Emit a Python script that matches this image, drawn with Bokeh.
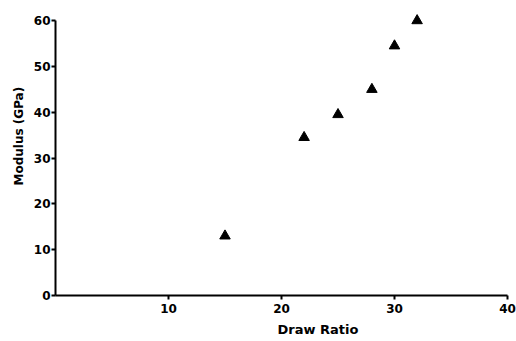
from bokeh.plotting import figure
from bokeh.models import FixedTicker, Range1d, Title
from bokeh.embed import file_html
from bokeh.resources import INLINE

draw_ratio = [15, 22, 25, 28, 30, 32]
modulus = [13, 34.5, 39.5, 45, 54.5, 60]
x_ticks = [10, 20, 30, 40]
y_ticks = [0, 10, 20, 30, 40, 50, 60]

FONT = "DejaVu Sans"

p = figure(width=516, height=341, output_backend="svg", toolbar_location=None,
           x_range=Range1d(0, 40), y_range=Range1d(0, 62),
           min_border_left=55, min_border_right=9, min_border_top=11, min_border_bottom=46)
p.outline_line_color = None
p.xgrid.grid_line_color = None
p.ygrid.grid_line_color = None
p.background_fill_color = "white"
p.border_fill_color = "white"

p.scatter(draw_ratio, modulus, marker="triangle", size=10.5, color="black")

for ax, ticks in ((p.xaxis, x_ticks), (p.yaxis, y_ticks)):
    ax.ticker = FixedTicker(ticks=ticks)
    ax.axis_line_width = 2
    ax.axis_line_color = "black"
    ax.major_tick_line_width = 2
    ax.major_tick_line_color = "black"
    ax.major_tick_in = 0
    ax.major_tick_out = 4
    ax.minor_tick_line_color = None
    ax.major_label_text_font = FONT
    ax.major_label_text_font_style = "bold"
    ax.major_label_text_font_size = "12px"
    ax.major_label_text_color = "black"

p.yaxis.bounds = (0, 60)
p.xaxis.major_label_standoff = 4
p.yaxis.major_label_standoff = 1

p.add_layout(Title(text="Draw Ratio", align="left", offset=222, standoff=8,
                   text_color="black",
                   text_font=FONT, text_font_style="bold", text_font_size="13px"), "below")
p.add_layout(Title(text="Modulus (GPa)", align="left", offset=110, standoff=9,
                   text_color="black",
                   text_font=FONT, text_font_style="bold", text_font_size="12px"), "left")

open("out.html", "w").write(file_html(p, INLINE))
